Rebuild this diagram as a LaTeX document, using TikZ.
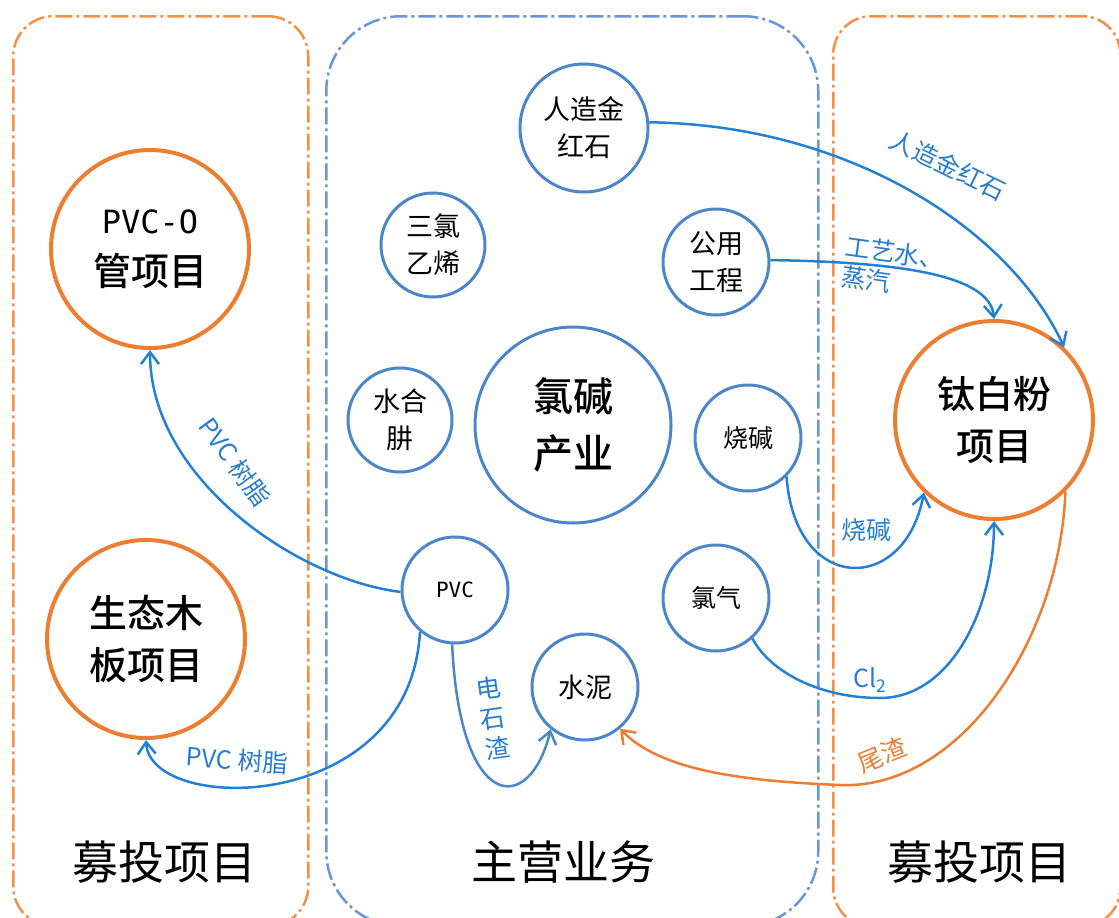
\documentclass[tikz,border=0pt]{standalone}
\usepackage{fontspec}
\setmainfont{Noto Sans CJK SC}
\newfontfamily\monof{DejaVu Sans Mono}
\newfontfamily\medf{Noto Sans CJK SC Medium}
\usetikzlibrary{arrows.meta}
\definecolor{org}{RGB}{237,125,49}
\definecolor{panelorg}{RGB}{242,145,70}
\definecolor{panelblue}{RGB}{105,150,215}
\definecolor{nodeblue}{RGB}{74,134,200}
\definecolor{lineblue}{RGB}{35,128,212}
\definecolor{lblblue}{RGB}{40,125,205}
\begin{document}
\begin{tikzpicture}[x=1pt,y=-1pt,
  panelbox/.style={draw, line width=2.5pt, dash pattern=on 17pt off 4pt on 3pt off 4pt, anchor=north west, inner sep=0pt},
  bignode/.style={circle, draw=org, line width=4pt, fill=white, minimum size=198pt, inner sep=0pt, align=center, font=\medf\fontsize{38}{52}\selectfont},
  smallnode/.style={circle, draw=nodeblue, line width=3pt, fill=white, minimum size=106pt, inner sep=0pt, align=center, font=\fontsize{27}{37}\selectfont},
  conn/.style={draw=lineblue, line width=2.5pt, -{Straight Barb[length=12pt,width=18pt,line width=2.5pt]}},
  connO/.style={draw=org, line width=2.5pt, -{Straight Barb[length=12pt,width=18pt,line width=2.5pt]}},
  lbl/.style={text=lblblue, font=\fontsize{25}{30}\selectfont, inner sep=1pt},
  lblO/.style={text=org, font=\fontsize{25}{30}\selectfont, inner sep=1pt},
  bottomlbl/.style={font=\fontsize{46}{50}\selectfont, inner sep=0pt}
]
\useasboundingbox (0,0) rectangle (1119,918);
% panels
\node[panelbox, draw=panelorg, rounded corners=40pt, minimum width=295pt, minimum height=910pt] (pl) at (12,15) {};
\node[panelbox, draw=panelblue, rounded corners=75pt, minimum width=492pt, minimum height=910pt] (pm) at (325,15) {};
\node[panelbox, draw=panelorg, rounded corners=38pt, minimum width=287pt, minimum height=910pt] (pr) at (832,15) {};

% big nodes
\node[bignode] (po) at (150,249) {{\monof\fontsize{32}{52}\selectfont PVC-O}\\管项目};
\node[bignode] (st) at (146,639) {生态木\\板项目};
\node[bignode] (tb) at (994,420) {钛白粉\\项目};

% small nodes
\node[smallnode, minimum size=128pt] (jz) at (584,128) {人造金\\红石};
\node[smallnode, minimum size=104pt] (sl) at (433,245) {三氯\\乙烯};
\node[smallnode] (gy) at (716,262) {公用\\工程};
\node[smallnode, minimum size=104pt] (sh) at (400,420) {水合\\肼};
\node[smallnode, minimum size=196pt, font=\medf\fontsize{40}{57}\selectfont] (lj) at (573,425) {氯碱\\产业};
\node[smallnode, font=\fontsize{25}{30}\selectfont] (sj) at (748,438) {烧碱};
\node[smallnode, font=\monof\fontsize{21}{25}\selectfont] (pvc) at (455,590) {PVC};
\node[smallnode, font=\fontsize{25}{30}\selectfont] (lq) at (716,598) {氯气};
\node[smallnode] (sn) at (585,687) {水泥};

% connectors
\draw[conn] (jz.5) .. controls (850,125) and (1010,230) .. (tb.46);
\draw[conn] (gy.2) .. controls (900,262) and (990,275) .. (tb.north);
\draw[conn] (sj.-45) .. controls (795,595) and (905,595) .. (tb.226);
\draw[conn] (lq.-48) .. controls (770,672) and (820,698) .. (880,698) .. controls (950,698) and (994,610) .. (tb.south);
\draw[connO] (tb.-45) .. controls (1060,640) and (960,790) .. (840,785) .. controls (740,781) and (660,770) .. (sn.-50);
\draw[conn] (pvc.182) .. controls (300,580) and (150,480) .. (po.south);
\draw[conn] (pvc.-130) .. controls (410,815) and (150,815) .. (st.south);
\draw[conn, draw=nodeblue] (pvc.-93) .. controls (460,815) and (530,815) .. (sn.231);

% connector labels
\node[lbl, rotate=-26] (l1) at (948,165) {人造金红石};
\node[lbl, rotate=-8, align=left] (l2) at (893,268) {工艺水、\\蒸汽};
\node[lbl] (l3) at (866,530) {烧碱};
\node[lbl] (l4) at (870,680) {Cl\textsubscript{2}};
\node[lblO, rotate=22] (l5) at (882,755) {尾渣};
\node[lbl, rotate=-54] (l6) at (235,462) {PVC 树脂};
\node[lbl, rotate=-4] (l7) at (237,760) {PVC 树脂};
\node[lbl, rotate=8, align=center] (l8) at (493,718) {电\\石\\渣};

% bottom labels
\node[bottomlbl] (b1) at (164,862) {募投项目};
\node[bottomlbl] (b2) at (563,862) {主营业务};
\node[bottomlbl] (b3) at (979,862) {募投项目};
\end{tikzpicture}
\end{document}
